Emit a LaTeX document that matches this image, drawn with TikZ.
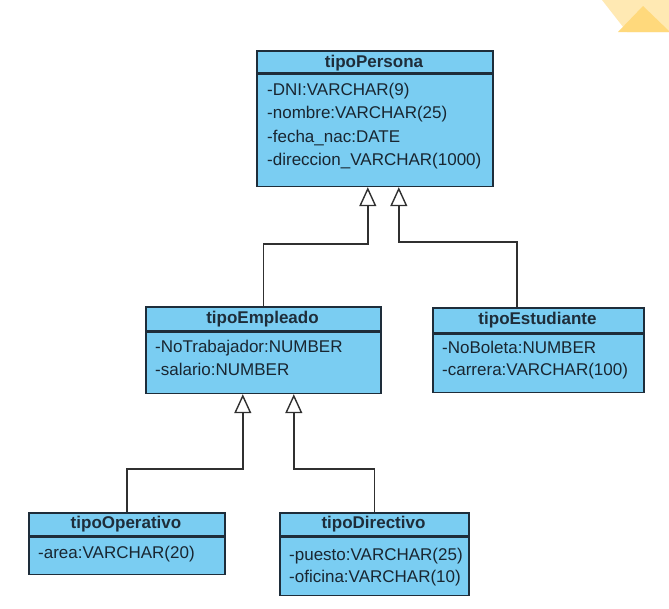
\documentclass[tikz,border=0pt]{standalone}
\usepackage{fontspec}
\setmainfont{Liberation Sans}
\usetikzlibrary{arrows.meta}
\definecolor{boxfill}{HTML}{7ACDF2}
\definecolor{boxline}{HTML}{1E2D3A}
\definecolor{lnk}{HTML}{303030}
\definecolor{yelA}{HTML}{FFE9B3}
\definecolor{yelB}{HTML}{FFD97C}
\begin{document}
\begin{tikzpicture}[x=1pt,y=-1pt,
  cbox/.style={draw=boxline, fill=boxfill, line width=1.6pt, anchor=north west, inner sep=0pt},
  ttl/.style={anchor=base, inner sep=0pt, font=\bfseries\fontsize{17}{20}\selectfont, text=boxline},
  attr/.style={anchor=base west, inner sep=0pt, font=\fontsize{17}{20}\selectfont, text=boxline!85!black},
  inh/.style={draw=lnk, line width=1.4pt, -{Triangle[open, length=19pt, width=17pt, fill=white]}}]
\useasboundingbox (0,0) rectangle (669,608);
\fill[white] (0,0) rectangle (669,608);
% decoration
\fill[yelA] (602,0) -- (669,0) -- (669,32) -- (627,32) -- cycle;
\fill[yelB] (618,32) -- (643,6) -- (669,31) -- (669,32) -- cycle;

% tipoPersona
\node[cbox, minimum width=236pt, minimum height=22pt] (per) at (256,50) {};
\node[cbox, minimum width=236pt, minimum height=112pt] (perb) at (per.south west) {};
\node[ttl] (pert) at (374,67) {tipoPersona};
\node[attr] (pa1) at (267,95) {-DNI:VARCHAR(9)};
\node[attr] (pa2) at (267,118.5) {-nombre:VARCHAR(25)};
\node[attr] (pa3) at (267,142) {-fecha\_nac:DATE};
\node[attr] (pa4) at (267,165.5) {-direccion\_VARCHAR(1000)};

% tipoEmpleado
\node[cbox, minimum width=235pt, minimum height=24pt] (emp) at (145,306) {};
\node[cbox, minimum width=235pt, minimum height=61pt] (empb) at (emp.south west) {};
\node[ttl] (empt) at (262.5,323) {tipoEmpleado};
\node[attr] (ea1) at (155,352) {-NoTrabajador:NUMBER};
\node[attr] (ea2) at (155,375) {-salario:NUMBER};

% tipoEstudiante
\node[cbox, minimum width=211pt, minimum height=25pt] (est) at (432,307) {};
\node[cbox, minimum width=211pt, minimum height=58pt] (estb) at (est.south west) {};
\node[ttl] (estt) at (537.5,324) {tipoEstudiante};
\node[attr] (sa1) at (442,353) {-NoBoleta:NUMBER};
\node[attr] (sa2) at (442,375) {-carrera:VARCHAR(100)};

% tipoOperativo
\node[cbox, minimum width=196pt, minimum height=23pt] (ope) at (28,512) {};
\node[cbox, minimum width=196pt, minimum height=37pt] (opeb) at (ope.south west) {};
\node[ttl] (opet) at (126,528) {tipoOperativo};
\node[attr] (oa1) at (38,558) {-area:VARCHAR(20)};

% tipoDirectivo
\node[cbox, minimum width=189pt, minimum height=23pt] (dir) at (279,512) {};
\node[cbox, minimum width=189pt, minimum height=58pt] (dirb) at (dir.south west) {};
\node[ttl] (dirt) at (373.5,528) {tipoDirectivo};
\node[attr] (da1) at (289,560) {-puesto:VARCHAR(25)};
\node[attr] (da2) at (289,582) {-oficina:VARCHAR(10)};

% inheritance connectors
\draw[inh] (emp.north) -- ++(0,-62) -| ([xshift=-7pt]perb.south);
\draw[inh] ([xshift=-21.5pt]est.north) -- ++(0,-65) -| ([xshift=24pt]perb.south);
\draw[inh] (ope.north) -- ++(0,-43) -| ([xshift=-20.5pt]empb.south);
\draw[inh] (dir.north) -- ++(0,-43) -| ([xshift=30.5pt]empb.south);
\end{tikzpicture}
\end{document}
